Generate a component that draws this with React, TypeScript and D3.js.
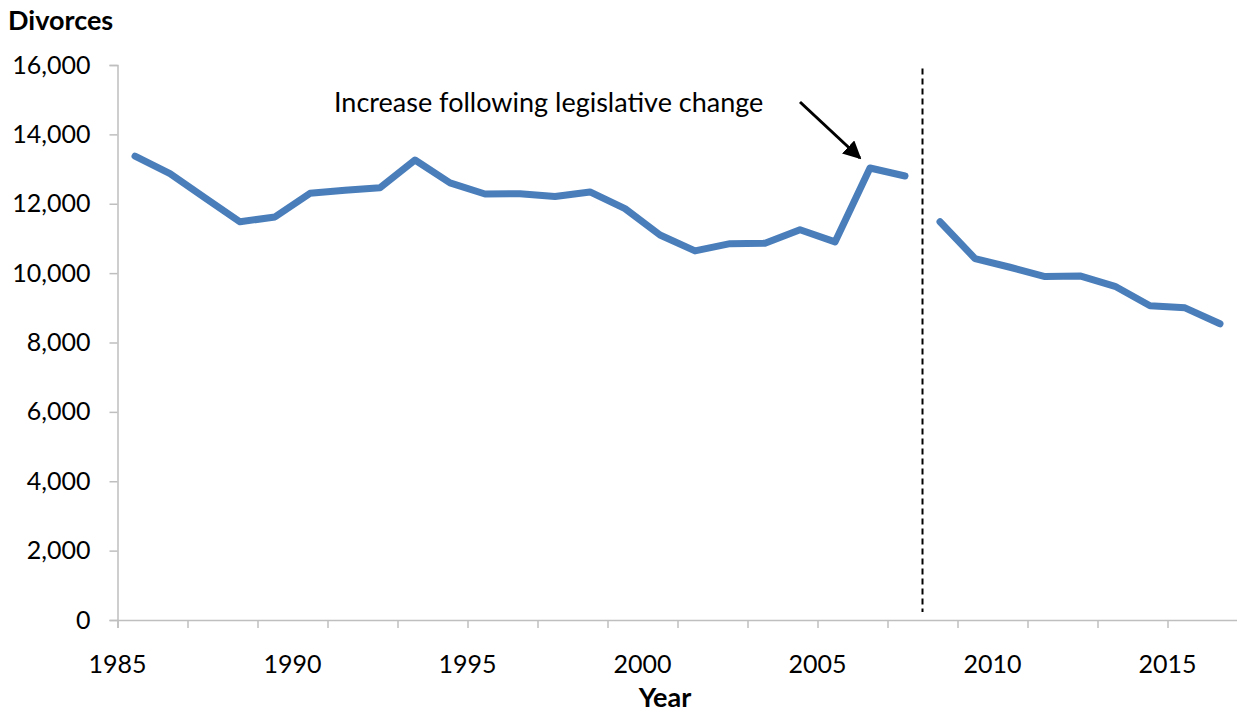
import { useEffect, useRef } from 'react';
import * as d3 from 'd3';

// divorces per year (point drawn mid-year); series breaks at the legislative change
const years = [1985, 1986, 1987, 1988, 1989, 1990, 1991, 1992, 1993, 1994, 1995, 1996,
  1997, 1998, 1999, 2000, 2001, 2002, 2003, 2004, 2005, 2006, 2007,
  2008, 2009, 2010, 2011, 2012, 2013, 2014, 2015, 2016];
const divorces = [13370, 12870, 12170, 11480, 11620, 12300, 12390, 12460, 13260, 12600, 12280, 12290,
  12210, 12340, 11860, 11100, 10640, 10850, 10860, 11250, 10900, 13030, 12800,
  11480, 10420, 10170, 9900, 9920, 9620, 9060, 9000, 8540];
const breakYear = 2008;
const yTicks = [0, 2000, 4000, 6000, 8000, 10000, 12000, 14000, 16000];
const xLabels = [1985, 1990, 1995, 2000, 2005, 2010, 2015];
const annotation = 'Increase following legislative change';

const FONT = 'Lato, "Open Sans", sans-serif';

const App = () => {
  const svgRef = useRef<SVGSVGElement>(null);

  useEffect(() => {
    const w = 1237;
    const h = 715;
    const svg = d3.select(svgRef.current);
    svg.selectAll('*').remove();
    svg.attr('width', w).attr('height', h);

    const x = d3.scaleLinear().domain([1985, 2017]).range([117.5, 1237.5]);
    const y = d3.scaleLinear().domain([0, 16000]).range([620, 65]);
    const axisColor = '#bfbfbf';

    // y axis
    const yAxis = svg.append('g')
      .attr('transform', `translate(${x(1985)},0)`)
      .call(d3.axisLeft(y).tickValues(yTicks).tickFormat(d3.format(',')).tickSize(8).tickPadding(19));
    yAxis.select('.domain').attr('stroke', axisColor).attr('stroke-width', 1.5);
    yAxis.selectAll('.tick line').attr('stroke', axisColor).attr('stroke-width', 1.5);
    yAxis.selectAll('.tick text')
      .attr('fill', '#000')
      .style('font-family', FONT)
      .style('font-size', '25px');

    // x axis: ticks every two years, labels every five
    const xAxis = svg.append('g')
      .attr('transform', `translate(0,${y(0)})`)
      .call(d3.axisBottom(x).tickValues(d3.range(1985, 2018, 2)).tickSize(8).tickFormat(() => ''));
    xAxis.select('.domain').attr('stroke', axisColor).attr('stroke-width', 1.5);
    xAxis.selectAll('.tick line').attr('stroke', axisColor).attr('stroke-width', 1.5);

    svg.append('g')
      .selectAll('text')
      .data(xLabels)
      .enter()
      .append('text')
      .attr('x', d => x(d))
      .attr('y', 673)
      .attr('text-anchor', 'middle')
      .style('font-family', FONT)
      .style('font-size', '25px')
      .text(d => d);

    // axis titles
    svg.append('text')
      .attr('x', 8)
      .attr('y', 30)
      .style('font-family', FONT)
      .style('font-size', '27px')
      .style('font-weight', 'bold')
      .text('Divorces');
    svg.append('text')
      .attr('x', 665)
      .attr('y', 707)
      .attr('text-anchor', 'middle')
      .style('font-family', FONT)
      .style('font-size', '27px')
      .style('font-weight', 'bold')
      .text('Year');

    // dashed break line
    svg.append('line')
      .attr('x1', x(breakYear)).attr('x2', x(breakYear))
      .attr('y1', y(15900)).attr('y2', y(0) - 8)
      .attr('stroke', '#000')
      .attr('stroke-width', 2)
      .attr('stroke-dasharray', '6,4');

    // data lines
    const pts = years.map((yr, i) => ({ yr, v: divorces[i] }));
    const line = d3.line<{ yr: number; v: number }>()
      .x(d => x(d.yr + 0.5))
      .y(d => y(d.v));
    [pts.filter(d => d.yr < breakYear), pts.filter(d => d.yr >= breakYear)].forEach(seg => {
      svg.append('path')
        .datum(seg)
        .attr('d', line)
        .attr('fill', 'none')
        .attr('stroke', '#4a7ebb')
        .attr('stroke-width', 7)
        .attr('stroke-linejoin', 'round')
        .attr('stroke-linecap', 'round');
    });

    // annotation with arrow
    svg.append('defs').append('marker')
      .attr('id', 'arrowhead')
      .attr('viewBox', '0 0 10 10')
      .attr('refX', 9).attr('refY', 5)
      .attr('markerWidth', 6).attr('markerHeight', 6)
      .attr('markerUnits', 'strokeWidth')
      .attr('orient', 'auto')
      .append('path')
      .attr('d', 'M0,0 L10,5 L0,10 Z')
      .attr('fill', '#000');

    svg.append('text')
      .attr('x', 334)
      .attr('y', 112)
      .style('font-family', FONT)
      .style('font-size', '27px')
      .text(annotation);

    svg.append('line')
      .attr('x1', 800).attr('y1', 102)
      .attr('x2', x(2006.5) - 10).attr('y2', y(13030) - 10)
      .attr('stroke', '#000')
      .attr('stroke-width', 3)
      .attr('marker-end', 'url(#arrowhead)');
  }, []);

  return (
    <svg ref={svgRef} style={{ position: 'absolute', left: 0, top: 0, background: '#fff' }}></svg>
  );
};

export default App;
